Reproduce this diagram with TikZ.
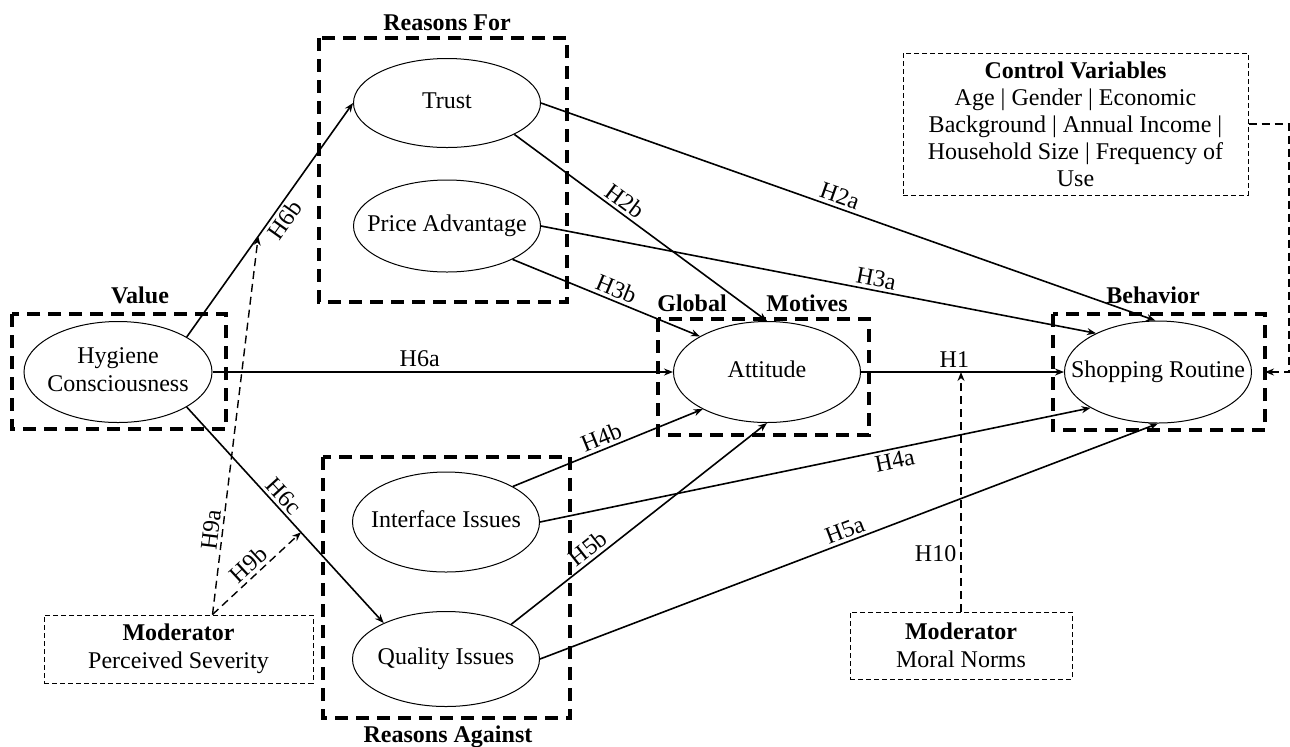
\documentclass[tikz,border=0pt]{standalone}
\usepackage{fontspec}
\setmainfont{Liberation Serif}
\usetikzlibrary{arrows.meta,shapes.geometric,positioning}
\newcommand{\ovaltext}[1]{\makebox[0pt]{\begin{tabular}{@{}c@{}}#1\end{tabular}}}

\begin{document}
\begin{tikzpicture}[x=0.5pt,y=-0.5pt,
  every node/.style={font=\fontsize{12}{14}\selectfont},
  construct/.style={draw,ellipse,line width=0.5pt,inner sep=0pt,minimum width=93.5pt},
  groupbox/.style={line width=1.6pt,dash pattern=on 6.5pt off 4pt},
  grouplabel/.style={font=\fontsize{12}{14}\selectfont\bfseries},
  modbox/.style={draw,line width=0.5pt,dash pattern=on 2.5pt off 1.5pt,align=center,inner sep=0pt},
  hyp/.style={line width=0.8pt,-{Stealth[length=4.5pt,width=3.5pt]}},
  modarrow/.style={line width=0.7pt,dash pattern=on 4pt off 2.5pt,-{Stealth[length=4.5pt,width=3.5pt]}},
  lbl/.style={sloped,above,inner sep=1.5pt}
]
\useasboundingbox (0,0) rectangle (1290,746);

\draw[groupbox] (12,314) rectangle (226,429);
\draw[groupbox] (319,38) rectangle (567,302);
\draw[groupbox] (658,319) rectangle (869,435);
\draw[groupbox] (1053,314) rectangle (1265,430);
\draw[groupbox] (323,457) rectangle (570,718);

\node[grouplabel] (valuelbl) at (140,295) {Value};
\node[grouplabel] (forlbl) at (447,23) {Reasons For};
\node[grouplabel] (globallbl) at (692,303) {Global};
\node[grouplabel] (motiveslbl) at (807,303) {Motives};
\node[grouplabel] (behaviorlbl) at (1153,295) {Behavior};
\node[grouplabel] (againstlbl) at (448,737) {Reasons Against};

\node[construct,minimum width=94pt,minimum height=50.5pt] (hyg) at (118,372) {\ovaltext{Hygiene\\Consciousness}};
\node[construct,minimum height=44.5pt] (trust) at (447,103) {\ovaltext{Trust}};
\node[construct,minimum height=46pt] (price) at (447,226) {\ovaltext{Price Advantage}};
\node[construct,minimum height=50.5pt] (att) at (767,372) {\ovaltext{Attitude}};
\node[construct,minimum height=51pt] (shop) at (1158,372) {\ovaltext{Shopping Routine}};
\node[construct,minimum height=50pt] (iface) at (446,522) {\ovaltext{Interface Issues}};
\node[construct,minimum height=47.5pt] (qual) at (446,659) {\ovaltext{Quality Issues}};

\node[modbox,minimum width=172.5pt,minimum height=71pt,font=\fontsize{12}{13.5}\selectfont] (ctrl) at (1075.5,124)
  {\textbf{Control Variables}\\Age | Gender | Economic\\Background | Annual Income |\\Household Size | Frequency of\\Use};
\node[modbox,minimum width=134.5pt,minimum height=34pt] (sev) at (178.5,649) {\textbf{Moderator}\\Perceived Severity};
\node[modbox,minimum width=111pt,minimum height=33.5pt] (norms) at (961,645.5) {\textbf{Moderator}\\Moral Norms};

\draw[hyp] (hyg.27) -- coordinate[pos=0.43] (h6bmid) node[sloped,below,inner sep=1.5pt,pos=0.53] {H6b} (trust.west);
\draw[hyp] (hyg.east) -- node[above,inner sep=2pt,pos=0.45] {H6a} (att.west);
\draw[hyp] (hyg.-27) -- coordinate[pos=0.58] (h6cmid) node[lbl,pos=0.45] {H6c} (qual.150);
\draw[hyp] (trust.east) -- node[lbl,pos=0.48] {H2a} (shop.93);
\draw[hyp] (trust.-25) -- node[lbl,pos=0.41] {H2b} (att.north);
\draw[hyp] (price.east) -- node[lbl,pos=0.6] {H3a} (shop.148);
\draw[hyp] (price.-27) -- node[lbl,pos=0.53] {H3b} (att.152);
\draw[hyp] (att.east) -- coordinate[pos=0.475] (h1mid) node[above,inner sep=2pt,pos=0.46] {H1} (shop.west);
\draw[hyp] (iface.28) -- node[lbl,pos=0.49] {H4b} (att.210);
\draw[hyp] (iface.east) -- node[sloped,below,inner sep=1.5pt,pos=0.64] {H4a} (shop.208);
\draw[hyp] (qual.28) -- node[lbl,pos=0.33] {H5b} (att.south);
\draw[hyp] (qual.east) -- node[lbl,pos=0.5] {H5a} (shop.south);

\draw[modarrow] ([xshift=17pt]sev.north) -- node[lbl,pos=0.22] {H9a} (h6bmid);
\draw[modarrow] ([xshift=17pt]sev.north) -- node[lbl,pos=0.5] {H9b} (h6cmid);
\draw[modarrow] (norms.north) -- node[left,inner sep=2pt,pos=0.24] {H10} (norms.north |- h1mid);

\coordinate (ctrlbend) at (1289,372);
\coordinate (ctrlend) at (1265,372);
\draw[modarrow] (ctrl.east) -| (ctrlbend) -- (ctrlend);
\end{tikzpicture}
\end{document}
